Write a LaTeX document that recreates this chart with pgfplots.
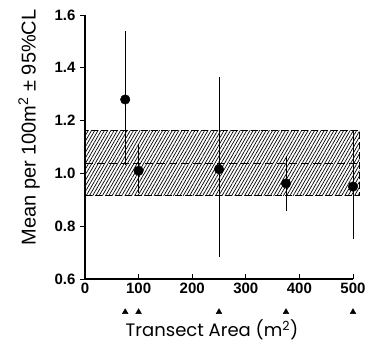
\documentclass[border=0pt]{standalone}
\usepackage{pgfplots}
\pgfplotsset{compat=1.18}
\usepackage{fontspec}
\setmainfont{Liberation Sans}
\newfontfamily\xlabfont{Poppins}
\usetikzlibrary{patterns.meta}
\begin{document}
\begin{tikzpicture}
\useasboundingbox (0,0) rectangle (369pt,345pt);
\begin{axis}[
  at={(85pt,66pt)}, anchor=south west,
  scale only axis, width=268pt, height=264pt,
  xmin=0, xmax=500, ymin=0.6, ymax=1.6,
  axis x line=bottom, axis y line=left,
  axis line style={-, line width=1.2pt},
  xtick={0,100,...,500}, ytick={0.6,0.8,1.0,1.2,1.4,1.6},
  yticklabels={0.6,0.8,1.0,1.2,1.4,1.6},
  tick style={black, line width=0.9pt}, major tick length=5pt,
  xtick align=inside, ytick align=outside,
  ticklabel style={font=\fontsize{15}{15}\selectfont\bfseries},
  yticklabel style={xshift=-1pt},
  /pgf/number format/assume math mode=true,
  clip=false,
  xlabel={\xlabfont Transect Area (m\textsuperscript{2})},
  xlabel style={font=\fontsize{18}{18}\selectfont, at={(axis description cs:0.474,-0.192)}, anchor=center},
  ylabel={Mean per 100m\textsuperscript{2} ± 95\%CL},
  ylabel style={font=\fontsize{20}{20}\selectfont, at={(axis description cs:-0.209,0.574)}, anchor=center},
]
% confidence band
\addplot[draw=black, line width=0.9pt, dash pattern=on 7pt off 3pt,
  pattern={Lines[angle=60, distance=2.8pt, line width=0.7pt]}] coordinates {(0,0.918) (512,0.918) (512,1.162) (0,1.162)} -- cycle;
\addplot[black, line width=1pt, dash pattern=on 8pt off 4pt] coordinates {(0,1.038) (512,1.038)};
% means with CL
\addplot[only marks, mark=*, mark size=4.8pt, black,
  error bars/.cd, y dir=both, y explicit, error mark=none,
  error bar style={line width=0.9pt, black}]
coordinates {
  (75,1.28) += (0,0.26) -= (0,0.25)
  (100,1.01) += (0,0.10) -= (0,0.085)
  (250,1.016) += (0,0.348) -= (0,0.331)
  (375,0.962) += (0,0.104) -= (0,0.103)
  (500,0.95) += (0,0.215) -= (0,0.20)
};
% transect sizes
\addplot[only marks, mark=triangle*, mark size=3.3pt, black] coordinates {(75,0.475) (100,0.475) (250,0.475) (375,0.475) (500,0.475)};
\end{axis}
\end{tikzpicture}
\end{document}
